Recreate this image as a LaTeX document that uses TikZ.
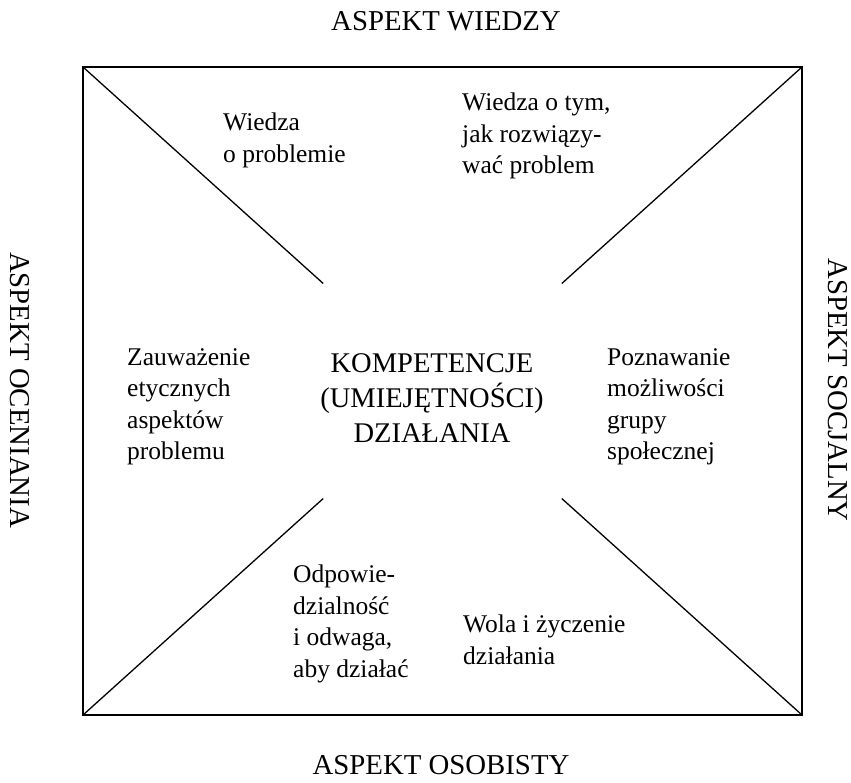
\documentclass[tikz,border=0pt]{standalone}
\usepackage{fontspec}
\setmainfont{Liberation Serif}
\usetikzlibrary{calc}
\begin{document}
\begin{tikzpicture}[x=1pt,y=-1pt,
  body/.style={anchor=north west, align=left, inner sep=0pt, font=\fontsize{25.5}{31.5}\selectfont},
  aspect/.style={inner sep=0pt, font=\fontsize{28.8}{34}\selectfont},
  frame/.style={line width=1.8pt},
  diag/.style={line width=1.3pt}]
\useasboundingbox (0,0) rectangle (851,782);
\coordinate (TL) at (83,67);
\coordinate (TR) at (802,67);
\coordinate (BR) at (802,715);
\coordinate (BL) at (83,715);
\coordinate (C) at (442.5,391);
\draw[frame] (TL) rectangle (BR);
\coordinate (tl) at ($(TL)!0.668!(C)$);
\draw[diag] (TL) -- (tl);
\coordinate (tr) at ($(TR)!0.668!(C)$);
\draw[diag] (TR) -- (tr);
\coordinate (bl) at ($(BL)!0.668!(C)$);
\draw[diag] (BL) -- (bl);
\coordinate (br) at ($(BR)!0.668!(C)$);
\draw[diag] (BR) -- (br);

\node[aspect] (top) at (446,21) {ASPEKT WIEDZY};
\node[aspect] (bot) at (441,765) {ASPEKT OSOBISTY};
\node[aspect, rotate=-90] (left) at (20,390) {ASPEKT OCENIANIA};
\node[aspect, rotate=-90] (right) at (838,390) {ASPEKT SOCJALNY};

\node[body] (w1) at (223,113) {Wiedza\\o problemie};
\node[body] (w2) at (462,93) {Wiedza o tym,\\jak rozwiązy-\\wać problem};
\node[body] (z) at (127,348) {Zauważenie\\etycznych\\aspektów\\problemu};
\node[body] (p) at (607,348) {Poznawanie\\możliwości\\grupy\\społecznej};
\node[body] (o) at (293,565) {Odpowie-\\dzialność\\i odwaga,\\aby działać};
\node[body] (wo) at (463,615) {Wola i życzenie\\działania};
\node[anchor=north, align=center, inner sep=0pt, font=\fontsize{28.5}{35}\selectfont] (k) at (432,353) {KOMPETENCJE\\(UMIEJĘTNOŚCI)\\DZIAŁANIA};
\end{tikzpicture}
\end{document}
